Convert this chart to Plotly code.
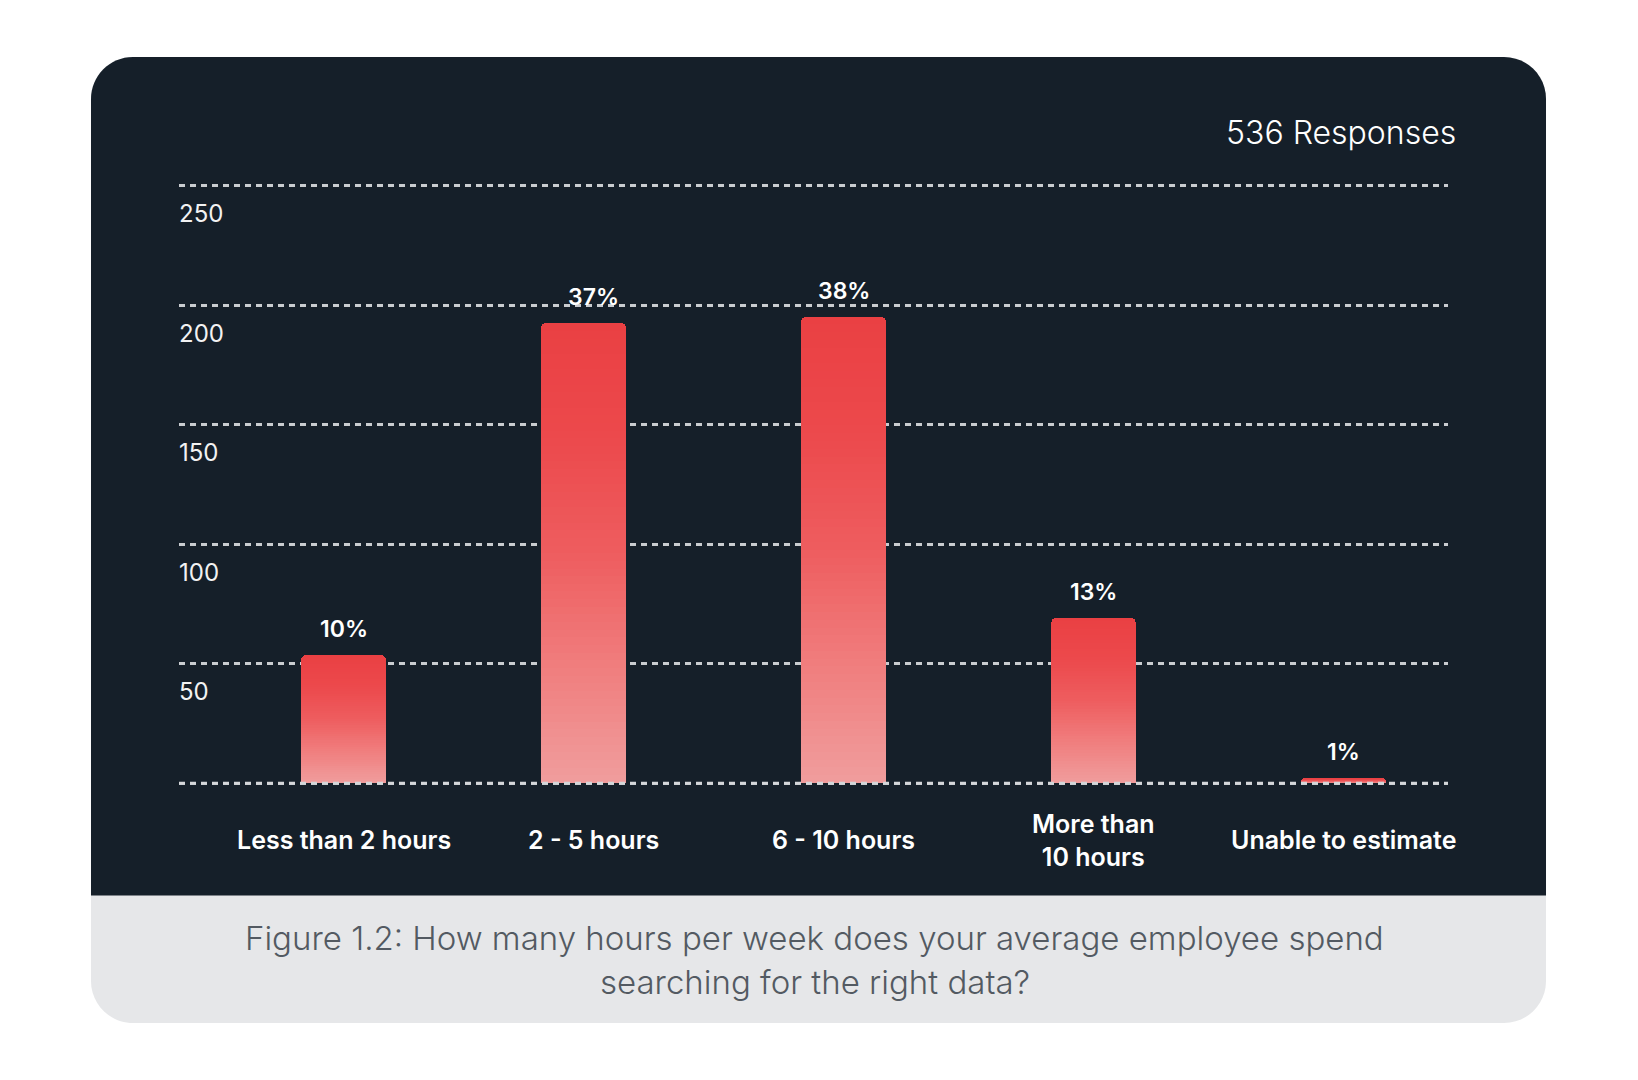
import plotly.graph_objects as go

# ---------------- data ----------------
categories = ["Less than 2 hours", "2 - 5 hours", "6 - 10 hours", "More than<br>10 hours", "Unable to estimate"]
responses = [53.5, 192.4, 195.2, 68.9, 2.0]
percent_labels = ["10%", "37%", "38%", "13%", "1%"]
y_tick_values = [0, 50, 100, 150, 200, 250]
y_tick_labels = ["", "50", "100", "150", "200", "250"]
total_label = "536 Responses"
caption_lines = ["Figure 1.2: How many hours per week does your average employee spend",
                 "searching for the right data?"]

# ---------------- layout geometry ----------------
# positions are measured in page pixels; the page body adds an 8px margin
OFF = 8
W, H = 1638 - 2 * OFF, 1080 - 2 * OFF
L, R, T, B = 179 - OFF, 1448 - OFF, 150 - OFF, 800 - OFF   # plot area in figure pixels
Y0, K = 783.0 - OFF, 2.389                                  # pixel of value 0, pixels per unit
X0, DX = 343.5 - OFF, 250.0                                 # pixel of first category, spacing

def px_x(p):
    return (p - OFF - L) / (R - L)

def px_y(p):
    return (B - (p - OFF)) / (B - T)

def rrect(x0, y0, x1, y1, rt, rb):
    k = 0.5523
    P = lambda x, y: f"{px_x(x):.5f},{px_y(y):.5f}"
    d = [f"M {P(x0 + rt, y0)}", f"L {P(x1 - rt, y0)}"]
    if rt:
        d.append(f"C {P(x1 - rt + k * rt, y0)} {P(x1, y0 + rt - k * rt)} {P(x1, y0 + rt)}")
    d.append(f"L {P(x1, y1 - rb)}")
    if rb:
        d.append(f"C {P(x1, y1 - rb + k * rb)} {P(x1 - rb + k * rb, y1)} {P(x1 - rb, y1)}")
    d.append(f"L {P(x0 + rb, y1)}")
    if rb:
        d.append(f"C {P(x0 + rb - k * rb, y1)} {P(x0, y1 - rb + k * rb)} {P(x0, y1 - rb)}")
    d.append(f"L {P(x0, y0 + rt)}")
    if rt:
        d.append(f"C {P(x0, y0 + rt - k * rt)} {P(x0 + rt - k * rt, y0)} {P(x0 + rt, y0)}")
    d.append("Z")
    return " ".join(d)

# gradient stops (0 = bar bottom, 1 = bar top)
stops = [(0.0, (240, 157, 157)), (0.25, (240, 126, 126)), (0.5, (238, 93, 95)),
         (0.75, (236, 73, 76)), (1.0, (234, 64, 67))]

def grad(f):
    for (a, ca), (b, cb) in zip(stops[:-1], stops[1:]):
        if a <= f <= b:
            t = (f - a) / (b - a)
            return "rgb(%d,%d,%d)" % tuple(round(ca[i] + (cb[i] - ca[i]) * t) for i in range(3))
    return "rgb(%d,%d,%d)" % stops[-1][1]

BAR_W = 0.34
offsets = [-BAR_W / 2, -BAR_W / 2 - 0.04, -BAR_W / 2, -BAR_W / 2, -BAR_W / 2]

fig = go.Figure()
N = 60
for k in range(N):
    fig.add_trace(go.Bar(
        x=categories,
        y=[v / N for v in responses],
        width=BAR_W,
        offset=offsets,
        marker=dict(color=grad((k + 0.5) / N), line=dict(width=0)),
        hoverinfo="skip",
        showlegend=False,
    ))

font_family = "Inter, 'Open Sans', sans-serif"

annotations = []
# y-axis tick labels, sitting just below each gridline at the left edge
for v, t in zip(y_tick_values, y_tick_labels):
    if t:
        annotations.append(dict(x=px_x(177), xref="paper", y=v, yref="y", text=t, showarrow=False,
                                xanchor="left", yanchor="middle", yshift=-28,
                                font=dict(size=24, color="#f2f2f2", family=font_family, weight=400)))
for c, v, t in zip(categories, responses, percent_labels):
    annotations.append(dict(x=c, y=v, xref="x", yref="y", text=t, showarrow=False,
                            yanchor="middle", yshift=26,
                            font=dict(size=23, color="#ffffff", family=font_family, weight=600)))
for c in categories:
    annotations.append(dict(x=c, xref="x", y=px_y(840), yref="paper", text=c, showarrow=False,
                            yanchor="middle", xanchor="center",
                            font=dict(size=25, color="#ffffff", family=font_family, weight=600)))
annotations.append(dict(x=px_x(1458), y=px_y(133), xref="paper", yref="paper", text=total_label,
                        showarrow=False, xanchor="right", yanchor="middle",
                        font=dict(size=32, color="#ffffff", family=font_family, weight=300)))
for i, line in enumerate(caption_lines):
    annotations.append(dict(x=px_x(815), y=px_y(938 + 44 * i), xref="paper", yref="paper", text=line,
                            showarrow=False, xanchor="center", yanchor="middle",
                            font=dict(size=33, color="#535a62", family=font_family, weight=300)))

shapes = [
    dict(type="path", xref="paper", yref="paper", layer="below",
         path=rrect(91, 57, 1546, 1023, 42, 42), fillcolor="#e6e7e9", line=dict(width=0)),
    dict(type="path", xref="paper", yref="paper", layer="below",
         path=rrect(91, 57, 1546, 895.5, 42, 0), fillcolor="#151f29", line=dict(width=0)),
    dict(type="line", xref="paper", yref="y", x0=0, x1=1, y0=0, y1=0, layer="above",
         line=dict(color="#d4d6d9", width=2.5, dash="6px,5px")),
]

fig.update_layout(
    width=W, height=H,
    margin=dict(l=L, r=W - R, t=T, b=H - B, pad=0),
    paper_bgcolor="#ffffff",
    plot_bgcolor="rgba(0,0,0,0)",
    barmode="stack",
    barcornerradius=5,
    bargap=0,
    showlegend=False,
    shapes=shapes,
    annotations=annotations,
    font=dict(family=font_family),
    xaxis=dict(range=[(L - X0) / DX, (R - X0) / DX], showticklabels=False, showgrid=False,
               zeroline=False, showline=False, ticks="", fixedrange=True),
    yaxis=dict(range=[(Y0 - B) / K, (Y0 - T) / K], tickvals=y_tick_values, showticklabels=False,
               showgrid=True, gridcolor="#c9ccd0", gridwidth=2.5, griddash="6px,5px",
               zeroline=False, showline=False, ticks="", fixedrange=True),
)

fig.write_html("out.html")
